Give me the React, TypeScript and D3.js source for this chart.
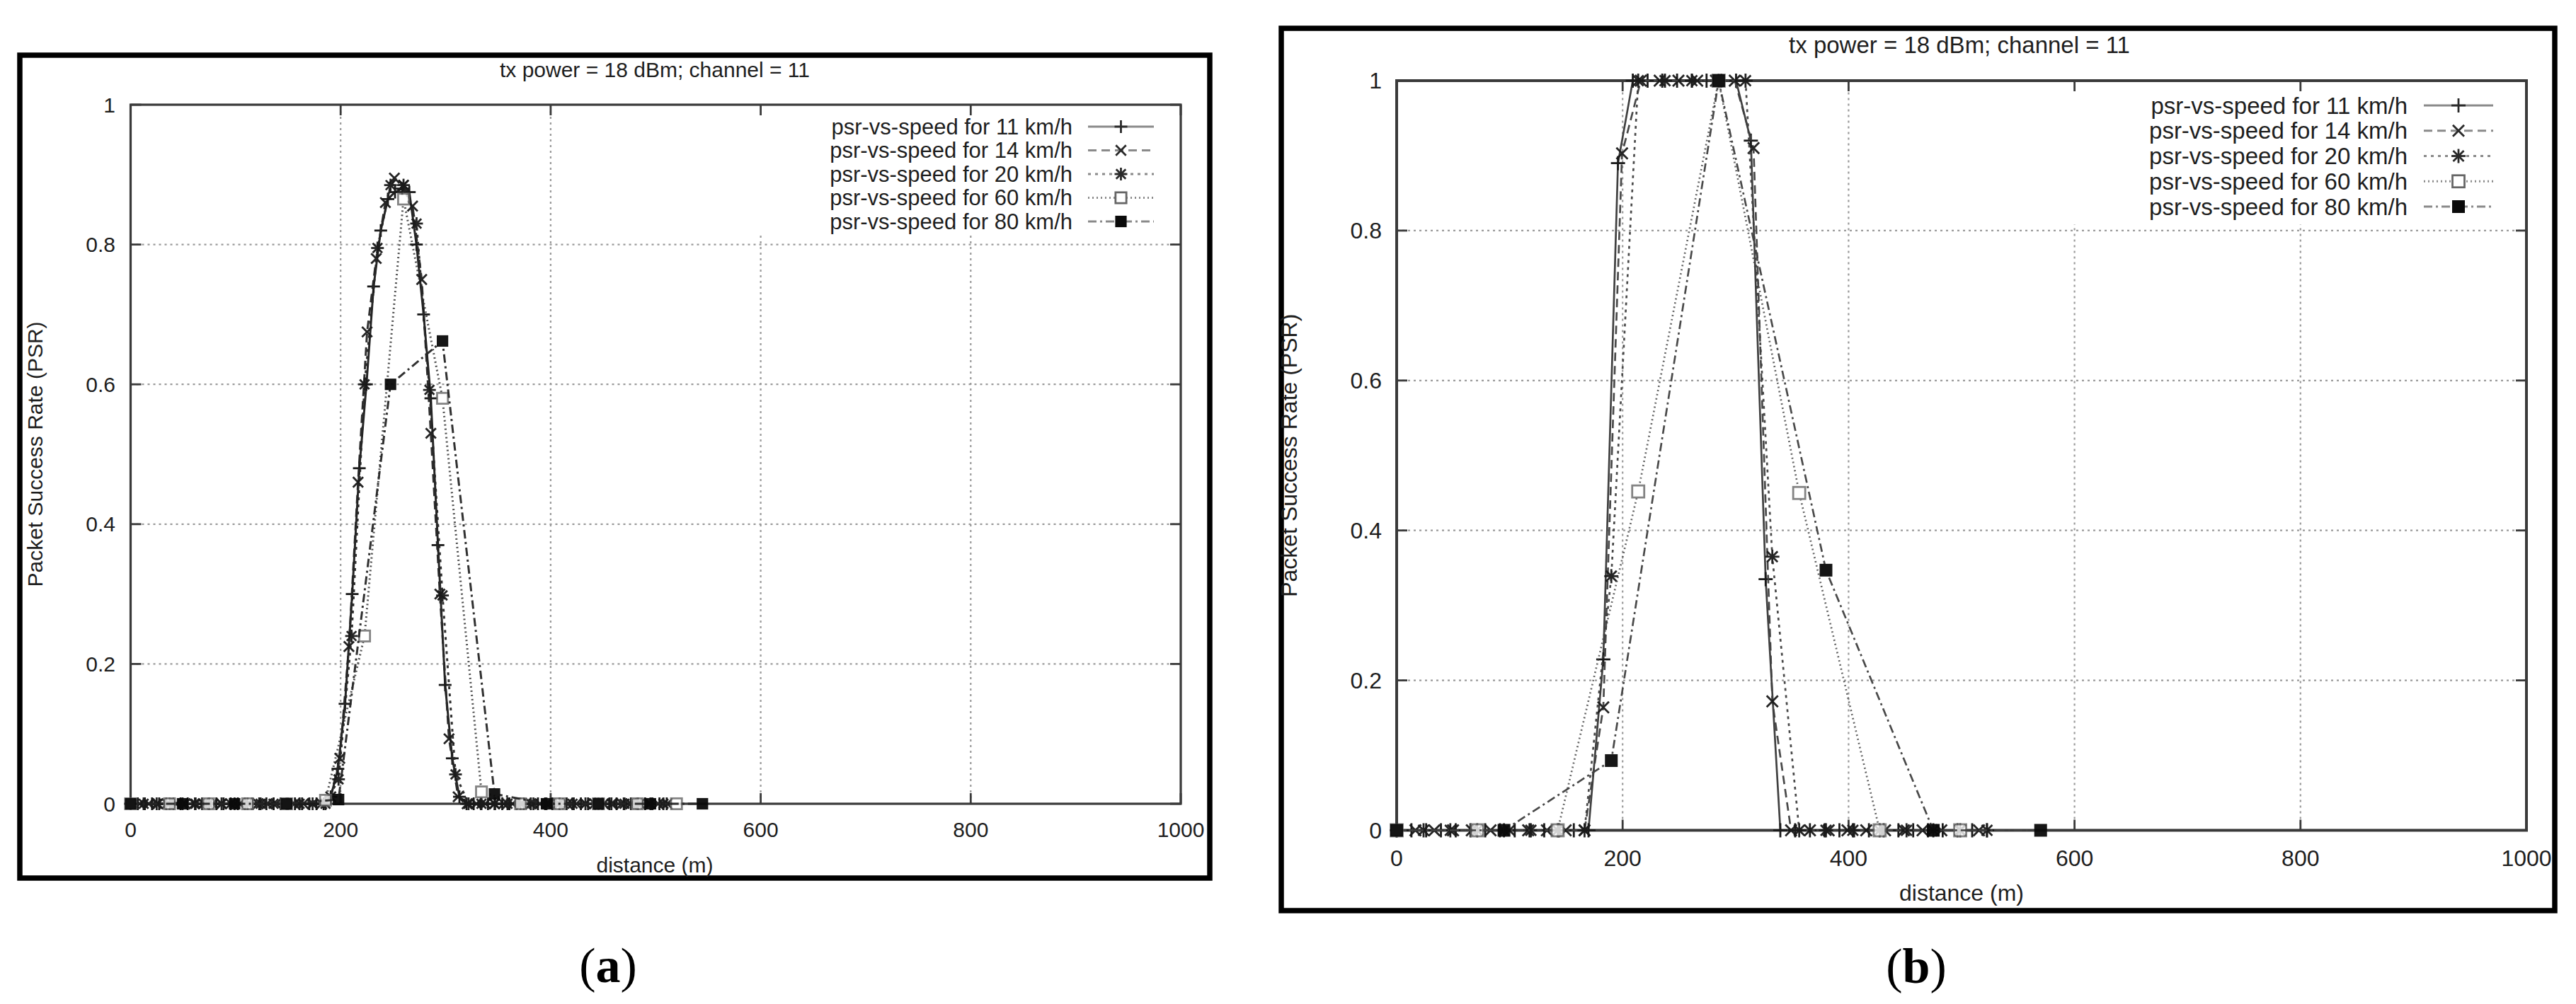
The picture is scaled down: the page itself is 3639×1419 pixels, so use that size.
import React from "react";
import * as d3 from "d3";

// ---------- shared labels / ticks ----------
const X_TICKS = [0, 200, 400, 600, 800, 1000];
const Y_TICKS = [0, 0.2, 0.4, 0.6, 0.8, 1];
const TITLE = "tx power = 18 dBm; channel = 11";
const X_LABEL = "distance (m)";
const Y_LABEL = "Packet Success Rate (PSR)";
const SERIES_NAMES = [
  "psr-vs-speed for 11 km/h",
  "psr-vs-speed for 14 km/h",
  "psr-vs-speed for 20 km/h",
  "psr-vs-speed for 60 km/h",
  "psr-vs-speed for 80 km/h",
];
const CAPTIONS = ["a", "b"];

// ---------- panel (a) data ----------
const A_11_X = [0, 6.8, 13.6, 20.4, 27.2, 34.0, 40.8, 47.6, 54.4, 61.3, 68.1, 74.9, 81.7, 88.5, 95.3, 102.1, 108.9, 115.7, 122.5, 129.3, 136.1, 142.9, 149.7, 156.5, 163.3, 170.2, 177.0, 183.8, 190.6, 197.4, 204.2, 211.0, 217.8, 224.6, 231.4, 238.2, 245.0, 251.8, 258.6, 265.4, 272.2, 279.0, 285.9, 292.7, 299.5, 306.3, 313.1, 319.9, 326.7, 333.5, 340.3, 347.1, 353.9, 360.7, 367.5, 374.3, 381.1, 387.9, 394.7, 401.6, 408.4, 415.2, 422.0, 428.8, 435.6, 442.4, 449.2, 456.0, 462.8, 469.6, 476.4, 483.2, 490.0, 496.8, 503.6, 510.5];
const A_11_Y = [0, 0, 0, 0, 0, 0, 0, 0, 0, 0, 0, 0, 0, 0, 0, 0, 0, 0, 0, 0, 0, 0, 0, 0, 0, 0, 0, 0, 0.01, 0.05, 0.143, 0.30, 0.48, 0.60, 0.74, 0.82, 0.865, 0.875, 0.88, 0.875, 0.80, 0.70, 0.58, 0.37, 0.17, 0.065, 0.01, 0, 0, 0, 0, 0, 0, 0, 0, 0, 0, 0, 0, 0, 0, 0, 0, 0, 0, 0, 0, 0, 0, 0, 0, 0, 0, 0, 0, 0];
const A_14_X = [0, 8.7, 17.3, 26.0, 34.7, 43.3, 52.0, 60.6, 69.3, 78.0, 86.6, 95.3, 104.0, 112.6, 121.3, 129.9, 138.6, 147.3, 155.9, 164.6, 173.3, 181.9, 190.6, 199.2, 207.9, 216.6, 225.2, 233.9, 242.6, 251.2, 259.9, 268.5, 277.2, 285.9, 294.5, 303.2, 311.9, 320.5, 329.2, 337.8, 346.5, 355.2, 363.8, 372.5, 381.2, 389.8, 398.5, 407.1, 415.8, 424.5, 433.1, 441.8, 450.5, 459.1, 467.8, 476.4, 485.1, 493.8, 502.4, 511.1];
const A_14_Y = [0, 0, 0, 0, 0, 0, 0, 0, 0, 0, 0, 0, 0, 0, 0, 0, 0, 0, 0, 0, 0, 0, 0.01, 0.065, 0.225, 0.46, 0.675, 0.78, 0.86, 0.895, 0.885, 0.855, 0.75, 0.53, 0.30, 0.093, 0.01, 0, 0, 0, 0, 0, 0, 0, 0, 0, 0, 0, 0, 0, 0, 0, 0, 0, 0, 0, 0, 0, 0, 0];
const A_20_X = [0, 12.4, 24.8, 37.1, 49.5, 61.9, 74.3, 86.6, 99.0, 111.4, 123.8, 136.1, 148.5, 160.9, 173.3, 185.6, 198.0, 210.4, 222.8, 235.1, 247.5, 259.9, 272.3, 284.6, 297.0, 309.4, 321.8, 334.1, 346.5, 358.9, 371.3, 383.6, 396.0, 408.4, 420.8, 433.1, 445.5, 457.9, 470.3, 482.6, 495.0, 507.4];
const A_20_Y = [0, 0, 0, 0, 0, 0, 0, 0, 0, 0, 0, 0, 0, 0, 0, 0, 0.035, 0.24, 0.60, 0.795, 0.885, 0.885, 0.83, 0.592, 0.298, 0.042, 0, 0, 0, 0, 0, 0, 0, 0, 0, 0, 0, 0, 0, 0, 0, 0];
const A_60_X = [0, 37.1, 74.3, 111.4, 148.5, 185.6, 222.8, 259.9, 297.0, 334.1, 371.3, 408.4, 445.5, 482.6, 519.8];
const A_60_Y = [0, 0, 0, 0, 0, 0.005, 0.24, 0.865, 0.58, 0.017, 0, 0, 0, 0, 0];
const A_80_X = [0, 49.5, 99, 148.5, 198, 247.5, 297, 346.5, 396, 445.5, 495, 544.5];
const A_80_Y = [0, 0, 0, 0, 0.006, 0.6, 0.662, 0.014, 0, 0, 0, 0];

// ---------- panel (b) data ----------
const B_11_X = [0, 13.1, 26.1, 39.2, 52.3, 65.3, 78.4, 91.4, 104.5, 117.6, 130.6, 143.7, 156.8, 169.8, 182.9, 195.9, 209.0, 222.1, 235.1, 248.2, 261.3, 274.3, 287.4, 300.4, 313.5, 326.6, 339.6, 352.7, 365.8, 378.8, 391.9, 404.9, 418.0, 431.1, 444.1, 457.2, 470.3, 483.3, 496.4, 509.4, 522.5];
const B_11_Y = [0, 0, 0, 0, 0, 0, 0, 0, 0, 0, 0, 0, 0, 0, 0.228, 0.89, 1, 1, 1, 1, 1, 1, 1, 1, 0.92, 0.335, 0, 0, 0, 0, 0, 0, 0, 0, 0, 0, 0, 0, 0, 0, 0];
const B_14_X = [0, 16.6, 33.3, 49.9, 66.5, 83.1, 99.8, 116.4, 133.0, 149.6, 166.3, 182.9, 199.5, 216.1, 232.8, 249.4, 266.0, 282.6, 299.3, 315.9, 332.5, 349.1, 365.8, 382.4, 399.0, 415.6, 432.3, 448.9, 465.5, 482.1, 498.8, 515.4];
const B_14_Y = [0, 0, 0, 0, 0, 0, 0, 0, 0, 0, 0, 0.164, 0.903, 1, 1, 1, 1, 1, 1, 0.91, 0.172, 0, 0, 0, 0, 0, 0, 0, 0, 0, 0, 0];
const B_20_X = [0, 23.8, 47.5, 71.3, 95, 118.8, 142.5, 166.3, 190, 213.8, 237.5, 261.3, 285, 308.8, 332.5, 356.3, 380, 403.8, 427.5, 451.3, 475, 498.8, 522.5];
const B_20_Y = [0, 0, 0, 0, 0, 0, 0, 0, 0.339, 1, 1, 1, 1, 1, 0.365, 0, 0, 0, 0, 0, 0, 0, 0];
const B_60_X = [0, 71.3, 142.5, 213.8, 285, 356.3, 427.5, 498.8];
const B_60_Y = [0, 0, 0, 0.452, 1, 0.45, 0, 0];
const B_80_X = [0, 95, 190, 285, 380, 475, 570];
const B_80_Y = [0, 0, 0.093, 1, 0.347, 0, 0];

const PANEL_A_SERIES = [
  [A_11_X, A_11_Y],
  [A_14_X, A_14_Y],
  [A_20_X, A_20_Y],
  [A_60_X, A_60_Y],
  [A_80_X, A_80_Y],
];
const PANEL_B_SERIES = [
  [B_11_X, B_11_Y],
  [B_14_X, B_14_Y],
  [B_20_X, B_20_Y],
  [B_60_X, B_60_Y],
  [B_80_X, B_80_Y],
];

// ---------- styling ----------
const FONT = "'Liberation Sans', Arial, sans-serif";
const TEXT = "#1e1e1e";

type MarkerKind = "plus" | "cross" | "star" | "openSquare" | "filledSquare";
const SERIES_STYLE: { dash: string | null; marker: MarkerKind; opacity: number }[] = [
  { dash: null, marker: "plus", opacity: 1 },
  { dash: "12,7", marker: "cross", opacity: 0.95 },
  { dash: "4,6", marker: "star", opacity: 0.95 },
  { dash: "2,4", marker: "openSquare", opacity: 0.8 },
  { dash: "12,5,3,5", marker: "filledSquare", opacity: 0.95 },
];

function Marker({ kind, cx, cy, s, color }: { kind: MarkerKind; cx: number; cy: number; s: number; color: string }) {
  const sw = 2.8;
  if (kind === "plus")
    return (
      <g stroke={color} strokeWidth={sw}>
        <line x1={cx - s} y1={cy} x2={cx + s} y2={cy} />
        <line x1={cx} y1={cy - s} x2={cx} y2={cy + s} />
      </g>
    );
  if (kind === "cross")
    return (
      <g stroke={color} strokeWidth={sw}>
        <line x1={cx - s * 0.8} y1={cy - s * 0.8} x2={cx + s * 0.8} y2={cy + s * 0.8} />
        <line x1={cx - s * 0.8} y1={cy + s * 0.8} x2={cx + s * 0.8} y2={cy - s * 0.8} />
      </g>
    );
  if (kind === "star")
    return (
      <g stroke={color} strokeWidth={sw}>
        <line x1={cx - s} y1={cy} x2={cx + s} y2={cy} />
        <line x1={cx} y1={cy - s} x2={cx} y2={cy + s} />
        <line x1={cx - s * 0.75} y1={cy - s * 0.75} x2={cx + s * 0.75} y2={cy + s * 0.75} />
        <line x1={cx - s * 0.75} y1={cy + s * 0.75} x2={cx + s * 0.75} y2={cy - s * 0.75} />
      </g>
    );
  if (kind === "openSquare")
    return <rect x={cx - s * 0.85} y={cy - s * 0.85} width={s * 1.7} height={s * 1.7} fill="white" stroke="#666" strokeWidth={2.8} />;
  return <rect x={cx - s * 0.9} y={cy - s * 0.9} width={s * 1.8} height={s * 1.8} fill="#0a0a0a" />;
}

type PanelCfg = {
  frame: [number, number, number, number];
  frameW: number;
  l: number; r: number; t: number; b: number;
  borderW: number;
  titleX: number; titleY: number; titleSize: number;
  tickSize: number; labelSize: number;
  xTickY: number; yTickRight: number;
  xLabelX: number; xLabelY: number;
  yLabelX: number;
  legendRight: number; legendY0: number; legendDy: number; legendSize: number;
  sampleX0: number; sampleX1: number;
  legendBg: [number, number, number, number];
  lineColor: string; lineW: number; markerS: number;
  capX: number; capY: number;
  caption: string;
  series: number[][][];
};

function Panel({ c }: { c: PanelCfg }) {
  const x = d3.scaleLinear().domain([0, 1000]).range([c.l, c.r]);
  const y = d3.scaleLinear().domain([0, 1]).range([c.b, c.t]);
  const line = d3
    .line<[number, number]>()
    .x((d) => x(d[0]))
    .y((d) => y(d[1]));
  const tickLen = 15;
  const [fx0, fy0, fx1, fy1] = c.frame;
  return (
    <g>
      <rect x={fx0} y={fy0} width={fx1 - fx0} height={fy1 - fy0} fill="white" stroke="#000" strokeWidth={c.frameW} />
      {/* grid */}
      <g stroke="#9a9a9a" strokeWidth={2.2} strokeDasharray="3,5">
        {X_TICKS.filter((v) => v > 0 && v < 1000).map((v) => (
          <line key={"gx" + v} x1={x(v)} x2={x(v)} y1={c.b} y2={c.t} />
        ))}
        {Y_TICKS.filter((v) => v > 0 && v < 1).map((v) => (
          <line key={"gy" + v} x1={c.l} x2={c.r} y1={y(v)} y2={y(v)} />
        ))}
      </g>
      {/* legend background */}
      <rect x={c.legendBg[0]} y={c.legendBg[1]} width={c.legendBg[2]} height={c.legendBg[3]} fill="white" />
      {/* border + ticks */}
      <rect x={c.l} y={c.t} width={c.r - c.l} height={c.b - c.t} fill="none" stroke="#3a3a3a" strokeWidth={c.borderW} />
      <g stroke="#3a3a3a" strokeWidth={2.8}>
        {X_TICKS.map((v) => (
          <g key={"tx" + v}>
            <line x1={x(v)} x2={x(v)} y1={c.b} y2={c.b - tickLen} />
            <line x1={x(v)} x2={x(v)} y1={c.t} y2={c.t + tickLen} />
          </g>
        ))}
        {Y_TICKS.map((v) => (
          <g key={"ty" + v}>
            <line x1={c.l} x2={c.l + tickLen} y1={y(v)} y2={y(v)} />
            <line x1={c.r} x2={c.r - tickLen} y1={y(v)} y2={y(v)} />
          </g>
        ))}
      </g>
      {/* tick labels */}
      <g fontFamily={FONT} fontSize={c.tickSize} fill={TEXT}>
        {X_TICKS.map((v) => (
          <text key={"lx" + v} x={x(v)} y={c.xTickY} textAnchor="middle" dominantBaseline="central">
            {d3.format("d")(v)}
          </text>
        ))}
        {Y_TICKS.map((v) => (
          <text key={"ly" + v} x={c.yTickRight} y={y(v)} textAnchor="end" dominantBaseline="central">
            {String(v)}
          </text>
        ))}
      </g>
      {/* titles */}
      <text x={c.titleX} y={c.titleY} fontFamily={FONT} fontSize={c.titleSize} fill={TEXT} textAnchor="middle" dominantBaseline="central">
        {TITLE}
      </text>
      <text x={c.xLabelX} y={c.xLabelY} fontFamily={FONT} fontSize={c.labelSize} fill={TEXT} textAnchor="middle" dominantBaseline="central">
        {X_LABEL}
      </text>
      <text
        transform={`translate(${c.yLabelX},${(c.t + c.b) / 2}) rotate(-90)`}
        fontFamily={FONT}
        fontSize={c.labelSize}
        fill={TEXT}
        textAnchor="middle"
        dominantBaseline="central"
      >
        {Y_LABEL}
      </text>
      {/* series */}
      {c.series.map(([xs, ys], i) => {
        const st = SERIES_STYLE[i];
        const pts: [number, number][] = xs.map((xv, j) => [xv, ys[j]]);
        return (
          <g key={"s" + i} opacity={st.opacity}>
            <path
              d={line(pts) || ""}
              fill="none"
              stroke={c.lineColor}
              strokeWidth={c.lineW}
              strokeDasharray={st.dash || undefined}
            />
            {pts.map((p, j) => (
              <Marker key={j} kind={st.marker} cx={x(p[0])} cy={y(p[1])} s={c.markerS} color="#1a1a1a" />
            ))}
          </g>
        );
      })}
      {/* legend */}
      {SERIES_NAMES.map((name, i) => {
        const st = SERIES_STYLE[i];
        const ly = c.legendY0 + i * c.legendDy;
        return (
          <g key={"lg" + i}>
            <text x={c.legendRight} y={ly} fontFamily={FONT} fontSize={c.legendSize} fill={TEXT} textAnchor="end" dominantBaseline="central">
              {name}
            </text>
            <line
              x1={c.sampleX0}
              x2={c.sampleX1}
              y1={ly}
              y2={ly}
              stroke="#8a8a8a"
              strokeWidth={2.8}
              strokeDasharray={st.dash || undefined}
            />
            <Marker kind={st.marker} cx={(c.sampleX0 + c.sampleX1) / 2} cy={ly} s={c.markerS} color="#2a2a2a" />
          </g>
        );
      })}
      {/* caption */}
      <text x={c.capX} y={c.capY} fontFamily="'Liberation Serif', 'Times New Roman', serif" fontSize={70} fill="#000" textAnchor="middle" dominantBaseline="central">
        (<tspan fontWeight="bold">{c.caption}</tspan>)
      </text>
    </g>
  );
}

const PANEL_A: PanelCfg = {
  frame: [28, 78, 1709, 1241],
  frameW: 7.5,
  l: 184.5, r: 1668, t: 148, b: 1136,
  borderW: 3.2,
  titleX: 925, titleY: 98, titleSize: 30,
  tickSize: 30, labelSize: 30,
  xTickY: 1172, yTickRight: 163,
  xLabelX: 925, xLabelY: 1222,
  yLabelX: 49,
  legendRight: 1515, legendY0: 179, legendDy: 33.5, legendSize: 31,
  sampleX0: 1537, sampleX1: 1630,
  legendBg: [1060, 150, 604, 182],
  lineColor: "#262626", lineW: 3, markerS: 9,
  capX: 859, capY: 1364,
  caption: CAPTIONS[0],
  series: PANEL_A_SERIES,
};

const PANEL_B: PanelCfg = {
  frame: [1810, 40, 3609, 1287],
  frameW: 7.5,
  l: 1973, r: 3569, t: 114, b: 1173.5,
  borderW: 4,
  titleX: 2768, titleY: 63, titleSize: 33,
  tickSize: 32, labelSize: 32,
  xTickY: 1213, yTickRight: 1952,
  xLabelX: 2771, xLabelY: 1262,
  yLabelX: 1821,
  legendRight: 3401, legendY0: 149, legendDy: 35.75, legendSize: 33,
  sampleX0: 3424, sampleX1: 3522,
  legendBg: [2915, 117, 650, 200],
  lineColor: "#404040", lineW: 2.7, markerS: 10,
  capX: 2707, capY: 1365,
  caption: CAPTIONS[1],
  series: PANEL_B_SERIES,
};

export default function App() {
  return (
    <svg
      width={3639}
      height={1419}
      viewBox="0 0 3639 1419"
      style={{ position: "absolute", left: 0, top: 0, background: "white" }}
    >
      <rect x={0} y={0} width={3639} height={1419} fill="white" />
      <Panel c={PANEL_A} />
      <Panel c={PANEL_B} />
    </svg>
  );
}
